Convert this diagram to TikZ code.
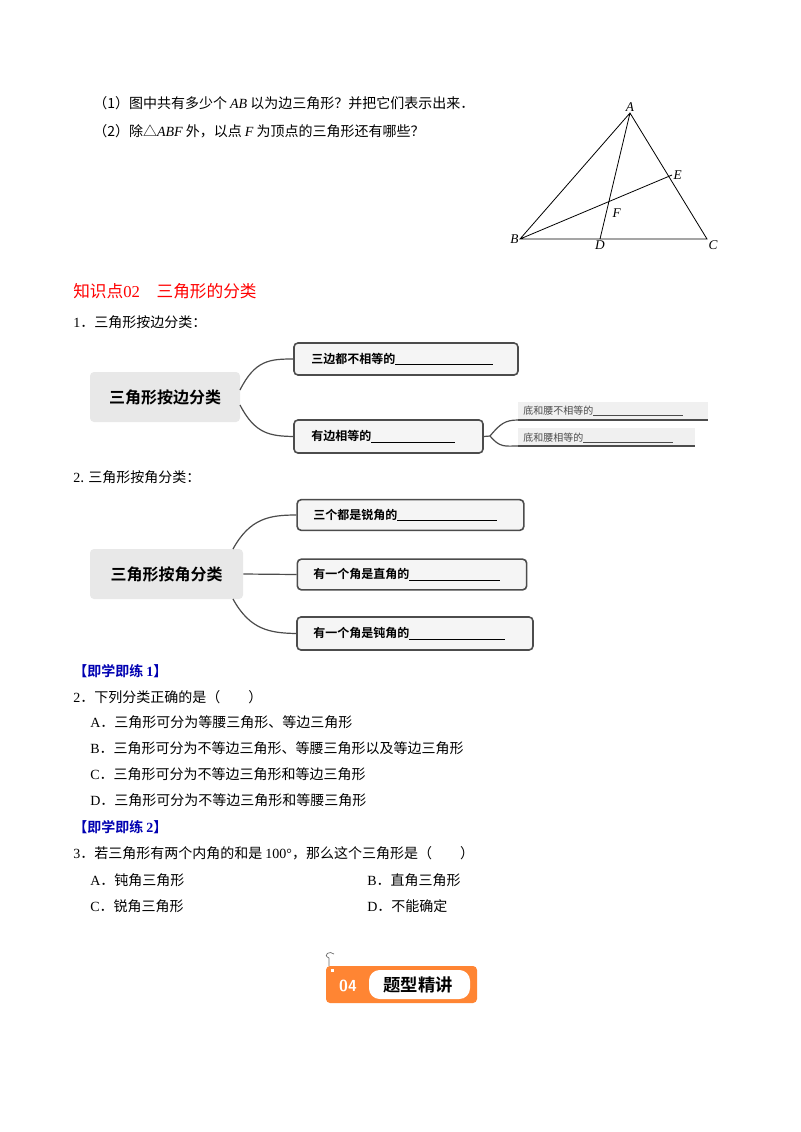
\documentclass[tikz,border=0pt]{standalone}
\usepackage{fontspec}
\setmainfont{Liberation Serif}
\newfontfamily\cjk{Noto Sans CJK SC}
\newfontfamily\cjkb{Noto Sans CJK SC Bold}
\newcommand{\lat}[1]{{\rmfamily\fontspec{Liberation Serif}\itshape #1}}
\newcommand{\num}[1]{{\fontspec{Liberation Serif}#1}}
\begin{document}
\begin{tikzpicture}[x=0.75pt,y=-0.75pt,
  txt/.style={anchor=west,inner sep=0pt,font=\cjk\fontsize{10.5}{12}\selectfont},
  big/.style={draw=none,fill=black!9,rounded corners=3pt,font=\cjkb\fontsize{12}{14}\selectfont},
  box/.style={draw=black!70,line width=1.2pt,fill=black!4,rounded corners=3pt},
  btxt/.style={anchor=west,inner sep=0pt,font=\cjkb\fontsize{9}{11}\selectfont},
  stxt/.style={anchor=west,inner sep=0pt,font=\cjk\fontsize{7.5}{9}\selectfont,text=black!70},
  conn/.style={draw=black!70,line width=0.9pt},
  pt/.style={font=\itshape\fontsize{10}{12}\selectfont,inner sep=1pt}]
\useasboundingbox (0,0) rectangle (800,1132);
\fill[white] (0,0) rectangle (800,1132);
% problem text
\node[txt] (q1) at (93,103) {（1）图中共有多少个 \lat{AB} 以为边三角形？并把它们表示出来．};
\node[txt] (q2) at (93,131) {（2）除△\lat{ABF} 外，以点 \lat{F} 为顶点的三角形还有哪些？};
% triangle
\coordinate (A) at (630,113); \coordinate (B) at (520,239); \coordinate (C) at (707,239);
\coordinate (D) at (600,239); \coordinate (E) at (672,175); \coordinate (F) at (611,207);
\draw[line width=0.6pt] (A)--(B)--(C)--cycle (A)--(D) (B)--(E);
\node[pt,above] at (A) {A}; \node[pt,left] at (B) {B}; \node[pt,below right] at (C) {C};
\node[pt,below] at (D) {D}; \node[pt,right] at (E) {E}; \node[pt,below right] at (F) {F};
% heading
\node[anchor=west,inner sep=0pt,text=red,font=\cjk\fontsize{12.5}{14}\selectfont] (h) at (73,291) {知识点\num{02}\quad 三角形的分类};
\node[txt] (s1) at (73,322) {\num{1}．三角形按边分类：};
% map 1
\node[big,minimum width=112.5pt,minimum height=37.5pt] (m1) at (165,397) {三角形按边分类};
\node[box,minimum width=168pt,minimum height=24pt] (b1) at (406,359) {};
\node[btxt] at (311,359) {三边都不相等的\rule[-1pt]{73pt}{0.5pt}};
\node[box,minimum width=141.75pt,minimum height=24.75pt] (b2) at (388.5,436.5) {};
\node[btxt] at (311,436.5) {有边相等的\rule[-1pt]{63pt}{0.5pt}};
\fill[black!6] (518,402) rectangle (708,420); \draw[conn] (518,420)--(708,420);
\fill[black!6] (518,428) rectangle (695,446); \draw[conn] (518,446)--(695,446);
\node[stxt] (c1) at (523,411) {底和腰不相等的\rule[-1pt]{67pt}{0.5pt}};
\node[stxt] (c2) at (523,438) {底和腰相等的\rule[-1pt]{67pt}{0.5pt}};
\draw[conn] (240,390) .. controls (255,360) and (270,359) .. (b1.west);
\draw[conn] (240,405) .. controls (255,434) and (270,436) .. (b2.west);
\draw[conn] (b2.east) -- (490,436) .. controls (500,424) and (505,420) .. (518,420);
\draw[conn] (490,436) .. controls (500,448) and (505,446) .. (518,446);
% map 2
\node[txt] (s2) at (73,477) {\num{2}. 三角形按角分类：};
\node[big,minimum width=114.75pt,minimum height=37.5pt] (m2) at (166.5,574) {三角形按角分类};
\node[box,minimum width=170pt,minimum height=23pt] (d1) at (410.5,515) {};
\node[btxt] at (313,515) {三个都是锐角的\rule[-1pt]{75pt}{0.5pt}};
\node[box,minimum width=172pt,minimum height=23pt] (d2) at (412,574.5) {};
\node[btxt] at (313,574.5) {有一个角是直角的\rule[-1pt]{68pt}{0.5pt}};
\node[box,minimum width=177pt,minimum height=24.75pt] (d3) at (415,633.5) {};
\node[btxt] at (313,633.5) {有一个角是钝角的\rule[-1pt]{72pt}{0.5pt}};
\draw[conn] (233,549) .. controls (250,518) and (270,515) .. (d1.west);
\draw[conn] (m2.east) -- (d2.west);
\draw[conn] (233,599) .. controls (250,630) and (270,633) .. (d3.west);
% exercises
\node[txt,text=blue!70!black,font=\cjkb\fontsize{10.5}{12}\selectfont] (e1) at (73,671) {【即学即练 \num{\bfseries 1}】};
\node[txt] (p2) at (73,697) {\num{2}．下列分类正确的是（\quad\quad）};
\node[txt] (a2) at (90,722) {\num{A}．三角形可分为等腰三角形、等边三角形};
\node[txt] (b2t) at (90,748) {\num{B}．三角形可分为不等边三角形、等腰三角形以及等边三角形};
\node[txt] (c2t) at (90,774) {\num{C}．三角形可分为不等边三角形和等边三角形};
\node[txt] (d2t) at (90,800) {\num{D}．三角形可分为不等边三角形和等腰三角形};
\node[txt,text=blue!70!black,font=\cjkb\fontsize{10.5}{12}\selectfont] (e2) at (73,827) {【即学即练 \num{\bfseries 2}】};
\node[txt] (p3) at (73,853) {\num{3}．若三角形有两个内角的和是 \num{100°}，那么这个三角形是（\quad\quad）};
\node[txt] (a3) at (90,880) {\num{A}．钝角三角形};
\node[txt] (b3) at (367,880) {\num{B}．直角三角形};
\node[txt] (c3) at (90,906) {\num{C}．锐角三角形};
\node[txt] (d3t) at (367,906) {\num{D}．不能确定};
% badge
\fill[orange!80!red!80,rounded corners=3pt] (326,966) rectangle (477,1003);
\fill[white,rounded corners=8pt] (369,970) rectangle (470,999);
\fill[white] (331,969) rectangle (334,972);
\node[inner sep=0pt,text=white,font=\sffamily\bfseries\fontsize{12}{14}\selectfont] (n4) at (348,986) {04};
\node[inner sep=0pt,font=\cjkb\fontsize{13}{15}\selectfont] (tt) at (418,985) {题型精讲};
\draw[black!60,line width=0.5pt] (329,966) -- (329,958) .. controls (322,955) and (330,950) .. (334,954);
\end{tikzpicture}
\end{document}
